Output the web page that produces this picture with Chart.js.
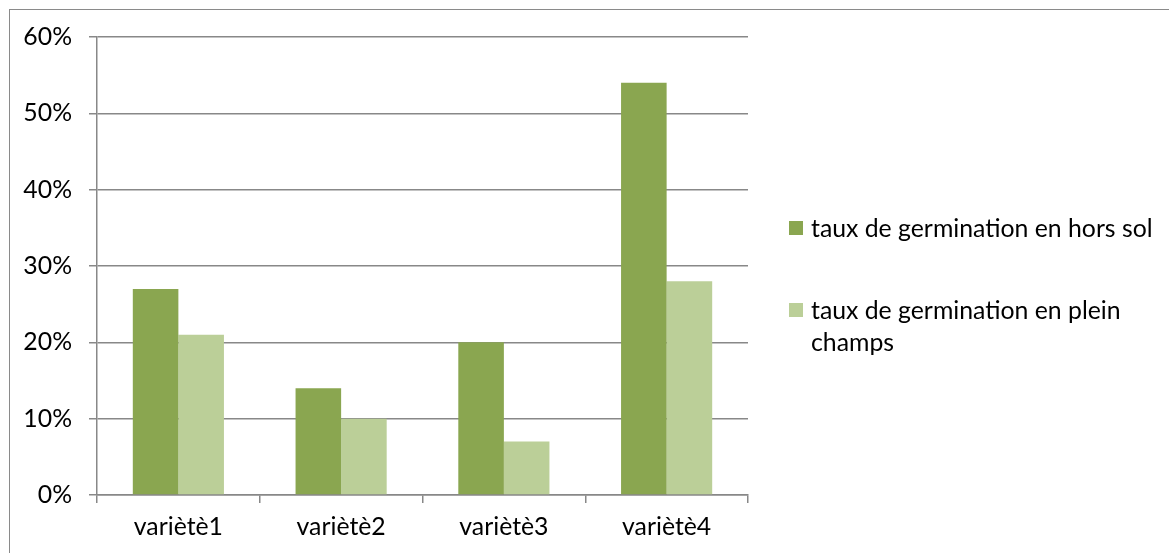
<!DOCTYPE html>
<html>
<head>
<meta charset="utf-8">
<script src="https://cdn.jsdelivr.net/npm/chart.js@4/dist/chart.umd.min.js"></script>
<style>
  html, body { margin: 0; padding: 0; background: #fff; overflow: hidden; }
  #wrap { position: relative; width: 1169px; height: 553px; }
  #frame { position: absolute; left: 9px; top: 9px; width: 1300px; height: 700px; border: 1px solid #8a8a8a; box-sizing: border-box; pointer-events: none; }
  #c { position: absolute; left: 0; top: 0; }
  #legend { position: absolute; left: 789px; top: 212px; width: 380px; color: #000; }
  .item { display: flex; align-items: flex-start; line-height: 32px; }
  .sw { width: 14px; height: 14px; flex: none; margin-top: 9px; margin-right: 8px; }
  .txt { width: 350px; }
  .item + .item { margin-top: 50px; }
</style>
</head>
<body>
<div id="wrap">
  <canvas id="c" width="1169" height="553"></canvas>
  <div id="frame"></div>
  <div id="legend"></div>
</div>
<script>
const categories = ['variètè1', 'variètè2', 'variètè3', 'variètè4'];
const seriesNames = ['taux de germination en hors sol', 'taux de germination en plein champs'];
const horsSol = [27, 14, 20, 54];
const pleinChamps = [21, 10, 7, 28];
const yTicks = [0, 10, 20, 30, 40, 50, 60];
const seriesColors = ['#8aa650', '#bbcf98'];

const family = 'Lato, "Open Sans", sans-serif';
// fit the font size so that the legend's first label matches the reference width
const mctx = document.createElement('canvas').getContext('2d');
mctx.font = '24px ' + family;
const w24 = mctx.measureText(seriesNames[0]).width;
const fs = Math.round(24 * 341 / w24 * 10) / 10;

const legend = document.getElementById('legend');
legend.style.fontFamily = family;
legend.style.fontSize = fs + 'px';
seriesNames.forEach((n, i) => {
  const it = document.createElement('div'); it.className = 'item';
  const sw = document.createElement('div'); sw.className = 'sw'; sw.style.background = seriesColors[i];
  const tx = document.createElement('div'); tx.className = 'txt'; tx.textContent = n;
  it.appendChild(sw); it.appendChild(tx); legend.appendChild(it);
});

const axisColor = '#888888';
new Chart(document.getElementById('c'), {
  type: 'bar',
  data: {
    labels: categories,
    datasets: [
      { label: seriesNames[0], data: horsSol, backgroundColor: seriesColors[0], categoryPercentage: 0.56, barPercentage: 1 },
      { label: seriesNames[1], data: pleinChamps, backgroundColor: seriesColors[1], categoryPercentage: 0.56, barPercentage: 1 }
    ]
  },
  options: {
    responsive: false,
    animation: false,
    devicePixelRatio: 1,
    layout: { padding: { left: 0, right: 421, top: 37, bottom: 0 } },
    plugins: { legend: { display: false }, tooltip: { enabled: false } },
    scales: {
      x: {
        grid: { display: true, drawOnChartArea: false, drawTicks: true, tickLength: 8, color: axisColor, lineWidth: 1.5, offset: true },
        border: { display: true, color: axisColor, width: 1.5 },
        ticks: { color: '#000', font: { family: family, size: fs }, padding: 9, maxRotation: 0 },
        afterFit: s => { s.height = 58; }
      },
      y: {
        min: 0, max: 60,
        afterBuildTicks: s => { s.ticks = yTicks.map(v => ({ value: v })); },
        grid: { color: axisColor, lineWidth: 1.5, tickLength: 8, drawTicks: true },
        border: { display: true, color: axisColor, width: 1.5 },
        ticks: { color: '#000', font: { family: family, size: fs }, padding: 17, callback: v => v + '%' },
        afterFit: s => { s.width = 97; }
      }
    }
  }
});
</script>
</body>
</html>
